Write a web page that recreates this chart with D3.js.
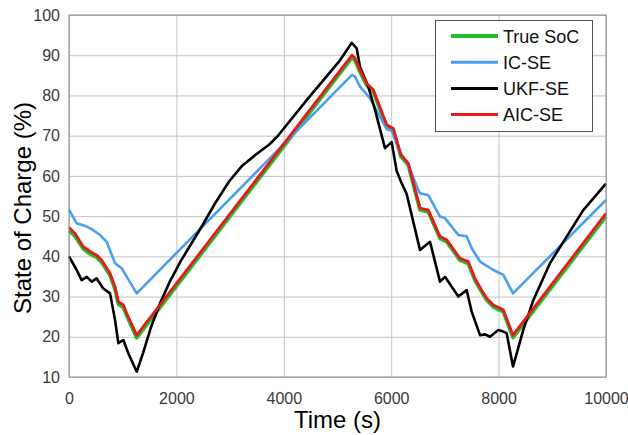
<!DOCTYPE html>
<html>
<head>
<meta charset="utf-8">
<script src="https://cdn.jsdelivr.net/npm/d3@7"></script>
<style>
body { margin: 0; background: #fff; }
svg { font-family: "Liberation Sans", Arial, sans-serif; }
</style>
</head>
<body>
<svg id="chart" width="628" height="435"></svg>
<script>
// values (time in s, state of charge in %)
var trueTime = [0, 112, 267, 391, 515, 608, 670, 764, 857, 919, 1012, 1074, 1261, 5270, 5325, 5419, 5544, 5667, 5916, 6039, 6180, 6319, 6536, 6691, 6909, 7033, 7281, 7435, 7560, 7685, 7778, 7902, 8087, 8268, 10000];
var trueSoc = [46.4, 45.0, 41.8, 40.6, 39.7, 38.5, 37.2, 35.2, 31.8, 28.1, 27.3, 25.2, 19.7, 89.4, 88.7, 85.8, 82.5, 80.9, 72.2, 71.3, 64.8, 62.6, 51.5, 51.0, 44.4, 43.6, 39.0, 38.2, 34.0, 31.1, 29.1, 27.4, 26.2, 19.8, 49.9];

var icTime = [0, 143, 330, 453, 577, 702, 857, 982, 1261, 5270, 5325, 5419, 5605, 5755, 5916, 6009, 6164, 6319, 6504, 6536, 6691, 6909, 7002, 7250, 7405, 7500, 7654, 7902, 8087, 8268, 10000];
var icSoc = [51.6, 48.2, 47.4, 46.5, 45.3, 43.6, 38.3, 37.0, 30.8, 85.1, 84.7, 82.2, 79.3, 75.6, 71.6, 71.2, 65.8, 62.7, 56.5, 55.7, 55.2, 49.9, 49.5, 45.3, 45.0, 42.0, 38.7, 36.6, 35.4, 30.8, 54.0];

var ukfTime = [0, 143, 236, 330, 422, 515, 639, 764, 857, 919, 1012, 1104, 1261, 1380, 1530, 1695, 1880, 2080, 2280, 2480, 2730, 2980, 3230, 3480, 3730, 3880, 4430, 5050, 5265, 5357, 5419, 5574, 5699, 5884, 6009, 6102, 6195, 6288, 6536, 6723, 6909, 7002, 7250, 7405, 7500, 7654, 7747, 7840, 7995, 8087, 8150, 8268, 8460, 8646, 8957, 9267, 9577, 10000];
var ukfSoc = [40.0, 36.6, 34.1, 34.9, 33.7, 34.5, 32.0, 30.8, 24.2, 18.4, 19.2, 15.9, 11.3, 16.0, 22.5, 28.3, 33.8, 38.8, 43.2, 47.6, 53.4, 58.6, 62.6, 65.3, 67.8, 69.8, 78.9, 88.8, 93.1, 91.7, 87.1, 82.2, 76.4, 66.9, 68.4, 61.2, 58.2, 55.5, 41.6, 43.6, 33.7, 34.9, 30.0, 31.6, 26.2, 20.4, 20.6, 20.0, 21.7, 21.3, 20.9, 12.6, 21.7, 29.1, 38.3, 44.9, 51.5, 58.1];

var aicTime = [0, 112, 267, 391, 515, 608, 670, 764, 857, 919, 1012, 1074, 1261, 5270, 5325, 5419, 5544, 5667, 5916, 6039, 6180, 6319, 6536, 6691, 6909, 7033, 7281, 7435, 7560, 7685, 7778, 7902, 8087, 8268, 10000];
var aicSoc = [47.2, 45.7, 42.4, 41.2, 40.3, 39.1, 37.8, 35.8, 32.4, 28.7, 27.9, 25.8, 20.4, 90.0, 89.3, 86.3, 83.0, 81.4, 72.7, 71.8, 65.3, 63.1, 52.0, 51.5, 44.9, 44.1, 39.5, 38.7, 34.5, 31.6, 29.6, 27.9, 26.7, 20.4, 50.7];

var seriesNames = ["True SoC", "IC-SE", "UKF-SE", "AIC-SE"];
var seriesColors = ["#1fc12b", "#4a9ff2", "#000000", "#e8181c"];
var seriesWidths = [3.6, 2.6, 2.6, 2.8];
var xTicks = [0, 2000, 4000, 6000, 8000, 10000];
var yTicks = [10, 20, 30, 40, 50, 60, 70, 80, 90, 100];

var svg = d3.select("#chart");
var plotLeft = 69, plotRight = 606, plotTop = 15, plotBottom = 377;

var x = d3.scaleLinear().domain([0, 10000]).range([plotLeft, plotRight]);
var y = d3.scaleLinear().domain([10, 100]).range([plotBottom, plotTop]);

// grid
svg.append("g")
    .attr("transform", "translate(0," + plotBottom + ")")
    .call(d3.axisBottom(x).tickValues(xTicks).tickSize(-(plotBottom - plotTop)).tickFormat(""))
    .call(function(g){ g.select(".domain").remove(); })
    .selectAll("line").attr("stroke", "#c4c4c4");
svg.append("g")
    .attr("transform", "translate(" + plotLeft + ",0)")
    .call(d3.axisLeft(y).tickValues(yTicks).tickSize(-(plotRight - plotLeft)).tickFormat(""))
    .call(function(g){ g.select(".domain").remove(); })
    .selectAll("line").attr("stroke", "#c4c4c4");

// tick labels
var xAxis = svg.append("g")
    .attr("transform", "translate(0," + plotBottom + ")")
    .call(d3.axisBottom(x).tickValues(xTicks).tickSize(0).tickPadding(16).tickFormat(d3.format("d")));
xAxis.select(".domain").remove();
xAxis.selectAll("text").attr("font-size", 16).attr("fill", "#3a3a3a")
    .attr("font-family", "Liberation Sans, Arial, sans-serif");

var yAxis = svg.append("g")
    .attr("transform", "translate(" + plotLeft + ",0)")
    .call(d3.axisLeft(y).tickValues(yTicks).tickSize(0).tickPadding(9));
yAxis.select(".domain").remove();
yAxis.selectAll("text").attr("font-size", 16).attr("fill", "#3a3a3a")
    .attr("font-family", "Liberation Sans, Arial, sans-serif");

// lines
var series = [
    {time: trueTime, soc: trueSoc},
    {time: icTime, soc: icSoc},
    {time: ukfTime, soc: ukfSoc},
    {time: aicTime, soc: aicSoc}
];
var line = d3.line()
    .x(function(d){ return x(d[0]); })
    .y(function(d){ return y(d[1]); });

series.forEach(function(s, i){
    var pts = s.time.map(function(t, j){ return [t, s.soc[j]]; });
    svg.append("path")
        .datum(pts)
        .attr("d", line)
        .attr("fill", "none")
        .attr("stroke", seriesColors[i])
        .attr("stroke-width", seriesWidths[i])
        .attr("stroke-linejoin", "round");
});

// box
svg.append("rect")
    .attr("x", plotLeft).attr("y", plotTop)
    .attr("width", plotRight - plotLeft).attr("height", plotBottom - plotTop)
    .attr("fill", "none").attr("stroke", "#8a8a8a").attr("stroke-width", 1);

// axis titles
svg.append("text")
    .attr("x", (plotLeft + plotRight) / 2).attr("y", 428)
    .attr("text-anchor", "middle").attr("font-size", 24)
    .text("Time (s)");
svg.append("text")
    .attr("transform", "translate(31,208) rotate(-90)")
    .attr("text-anchor", "middle").attr("font-size", 24)
    .text("State of Charge (%)");

// legend
var legend = svg.append("g");
legend.append("rect")
    .attr("x", 435.5).attr("y", 20.5).attr("width", 157).attr("height", 111)
    .attr("fill", "#fff").attr("stroke", "#555").attr("stroke-width", 1);
var rows = legend.selectAll(".row").data(seriesNames).enter().append("g")
    .attr("class", "row")
    .attr("transform", function(d, i){ return "translate(0," + (36 + i * 26.2) + ")"; });
rows.append("line")
    .attr("x1", 451).attr("x2", 498).attr("y1", 0).attr("y2", 0)
    .attr("stroke", function(d, i){ return seriesColors[i]; })
    .attr("stroke-width", function(d, i){ return i == 0 ? 4 : 3; });
rows.append("text")
    .attr("x", 503).attr("y", 6.5)
    .attr("font-size", 18).attr("fill", "#111")
    .text(function(d){ return d; });
</script>
</body>
</html>
